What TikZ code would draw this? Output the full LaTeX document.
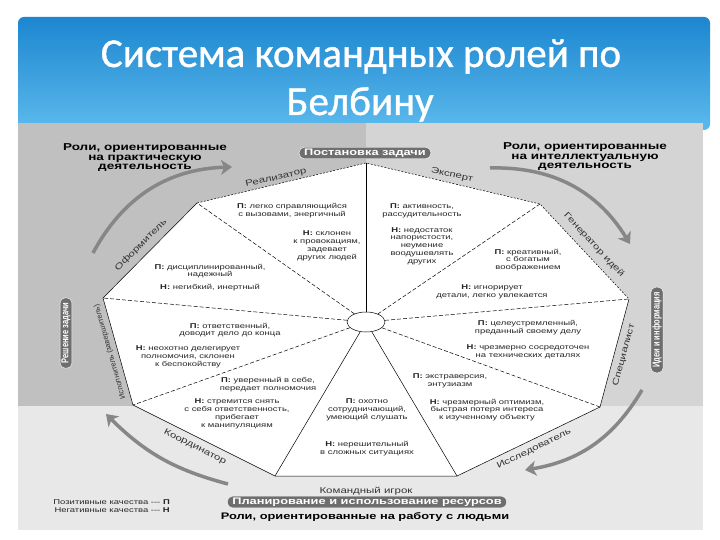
\documentclass[tikz,border=0pt]{standalone}
\usepackage{fontspec}
\setmainfont{Liberation Sans}
\newfontfamily\diafont{Liberation Sans}[FakeStretch=1.35]
\newfontfamily\slimfont{Liberation Sans}[FakeStretch=0.75]
\newfontfamily\titlefont{Carlito}[FakeBold=1]
\usetikzlibrary{arrows.meta,shapes.geometric,positioning}

\definecolor{hdrtop}{RGB}{28,134,208}
\definecolor{hdrbot}{RGB}{92,186,236}
\definecolor{bgleft}{RGB}{192,192,192}
\definecolor{bgright}{RGB}{212,212,212}
\definecolor{bglow}{RGB}{232,232,232}
\definecolor{pillgray}{RGB}{110,110,110}
\definecolor{flowgray}{RGB}{135,135,135}

\newcommand{\posq}{\textbf{П:} }
\newcommand{\negq}{\textbf{Н:} }

\tikzset{
  hub/.style={ellipse, draw=black, fill=white, line width=0.5pt, minimum width=38pt, minimum height=20pt, inner sep=0pt},
  spoke/.style={line width=0.5pt, dash pattern=on 4pt off 2pt},
  solidspoke/.style={line width=0.5pt},
  mainspoke/.style={line width=1pt},
  rim/.style={line width=0.5pt},
  dashrim/.style={line width=0.5pt, dash pattern=on 2pt off 1.5pt},
  quality/.style={font=\diafont\fontsize{7}{7.8}\selectfont, align=center, inner sep=0pt, text=black!85},
  rolename/.style={font=\diafont\fontsize{8.5}{9}\selectfont, inner sep=0pt, text=black!80},
  group/.style={font=\diafont\bfseries\fontsize{10}{9.5}\selectfont, align=center, inner sep=0pt},
  pill/.style={fill=pillgray, draw=white, line width=0.4pt, rounded corners=5pt, text=white, font=\diafont\bfseries\fontsize{9.5}{10}\selectfont, inner xsep=5pt, inner ysep=1.5pt},
  sidepill/.style={pill, rotate=90, font=\slimfont\bfseries\fontsize{10}{10}\selectfont},
  flow/.style={-{Stealth[length=11pt,width=15pt,inset=3pt]}, line width=3.5pt, flowgray},
  headline/.style={font=\titlefont\fontsize{41}{48}\selectfont, text=white, inner sep=0pt}
}

\begin{document}
\begin{tikzpicture}[x=1pt, y=-1pt]
  \useasboundingbox (0,0) rectangle (720,540);
  \fill[white] (0,0) rectangle (720,540);
  % header
  \shade[top color=hdrtop, bottom color=hdrbot, rounded corners=6pt] (18,17) rectangle (710,130);
  \node[headline, anchor=base] (title1) at (361,67) {Система командных ролей по};
  \node[headline, anchor=base] (title2) at (360,115) {Белбину};
  % background
  \fill[bgleft] (18,123) rectangle (366,406);
  \fill[bgright] (366,123) rectangle (703,406);
  \fill[bglow] (18,406) rectangle (703,530);

  % corners of the wheel
  \coordinate (t) at (366,163);
  \coordinate (ur) at (540,204);
  \coordinate (r) at (629,299);
  \coordinate (lr) at (600,407);
  \coordinate (br) at (457,476);
  \coordinate (bl) at (275,476);
  \coordinate (ll) at (133,405);
  \coordinate (l) at (103,298);
  \coordinate (ul) at (197,203);

  \fill[white] (t) -- (ur) -- (r) -- (lr) -- (br) -- (bl) -- (ll) -- (l) -- (ul) -- cycle;
  \draw[dashrim] (ul) -- (t) -- (ur) -- (r);
  \draw[rim] (r) -- (lr) -- (br) -- (bl) -- (ll) -- (l) -- (ul);

  \node[hub] (c) at (366,322) {};
  \draw[mainspoke] (c) -- (t);
  \draw[spoke] (c) -- (ul);
  \draw[spoke] (c) -- (ur);
  \draw[spoke] (c) -- (l);
  \draw[spoke] (c) -- (r);
  \draw[spoke] (c) -- (ll);
  \draw[spoke] (c) -- (lr);
  \draw[solidspoke] (c) -- (bl);
  \draw[solidspoke] (c) -- (br);

  % role names
  \node[rolename, rotate=13] (impl) at (276,178) {Реализатор};
  \node[rolename, rotate=-13] (expert) at (452,175) {Эксперт};
  \node[rolename, rotate=-47] (plant) at (594,245) {Генератор идей};
  \node[rolename, rotate=75] (spec) at (624,355) {Специалист};
  \node[rolename, rotate=26] (resinv) at (534,449) {Исследователь};
  \node[rolename] (teamw) at (366,491) {Командный игрок};
  \node[rolename, rotate=-27] (coord) at (195,447) {Координатор};
  \node[rolename, rotate=106, font=\fontsize{7.5}{8}\selectfont] (compl) at (110,352) {Исполнитель (завершитель)};
  \node[rolename, rotate=45] (shaper) at (141,245) {Оформитель};

  % qualities
  \node[quality] (q1p) at (292,211) {\posq легко справляющийся\\с вызовами, энергичный};
  \node[quality] (q1n) at (327,246) {\negq склонен\\к провокациям,\\задевает\\других людей};
  \node[quality] (q2p) at (210,271) {\posq дисциплинированный,\\надежный};
  \node[quality] (q2n) at (210,288) {\negq негибкий, инертный};
  \node[quality] (q3p) at (422,211) {\posq активность,\\рассудительность};
  \node[quality] (q3n) at (422,246) {\negq недостаток\\напористости,\\неумение\\воодушевлять\\других};
  \node[quality] (q4p) at (528,260) {\posq креативный,\\с богатым\\воображением};
  \node[quality] (q4n) at (492,292) {\negq игнорирует\\детали, легко увлекается};
  \node[quality] (q5p) at (528,328) {\posq целеустремленный,\\преданный своему делу};
  \node[quality] (q5n) at (528,352) {\negq чрезмерно сосредоточен\\на технических деталях};
  \node[quality] (q6p) at (450,381) {\posq экстраверсия,\\энтузиазм};
  \node[quality] (q6n) at (487,410) {\negq чрезмерный оптимизм,\\быстрая потеря интереса\\к изученному объекту};
  \node[quality] (q7p) at (367,410) {\posq охотно\\сотрудничающий,\\умеющий слушать};
  \node[quality] (q7n) at (367,449) {\negq нерешительный\\в сложных ситуациях};
  \node[quality] (q8p) at (268,385) {\posq уверенный в себе,\\передает полномочия};
  \node[quality] (q8n) at (237,414) {\negq стремится снять\\с себя ответственность,\\прибегает\\к манипуляциям};
  \node[quality] (q9p) at (230,330) {\posq ответственный,\\доводит дело до конца};
  \node[quality] (q9n) at (188,357) {\negq неохотно делегирует\\полномочия, склонен\\к беспокойству};

  % groups and stages
  \node[group] (practical) at (145,158) {Роли, ориентированные\\на практическую\\деятельность};
  \node[group] (intellect) at (585,157) {Роли, ориентированные\\на интеллектуальную\\деятельность};
  \node[group, font=\diafont\bfseries\fontsize{9.5}{9.5}\selectfont] (people) at (365,517) {Роли, ориентированные на работу с людьми};
  \node[pill] (setting) at (365,153) {Постановка задачи};
  \node[sidepill] (ideas) at (657,330) {Идеи и информация};
  \node[sidepill] (solving) at (66,333) {Решение задачи};
  \node[pill] (planning) at (367,502) {Планирование и использование ресурсов};
  \node[quality, align=right, anchor=east, font=\diafont\fontsize{7}{8.5}\selectfont] (legend) at (170,506) {Позитивные качества --- \textbf{П}\\Негативные качества --- \textbf{Н}};

  % flow arrows
  \coordinate (tla) at (93,253);
  \coordinate (tlb) at (232,167);
  \coordinate (tra) at (490,168);
  \coordinate (trb) at (630,244);
  \coordinate (bra) at (642,390);
  \coordinate (brb) at (525,470);
  \coordinate (bla) at (228,484);
  \coordinate (blb) at (106,414);
  \draw[flow] (tla) to[bend left=30] (tlb);
  \draw[flow] (tra) to[bend left=30] (trb);
  \draw[flow] (bra) to[bend left=25] (brb);
  \draw[flow] (bla) to[bend left=15] (blb);
\end{tikzpicture}
\end{document}
